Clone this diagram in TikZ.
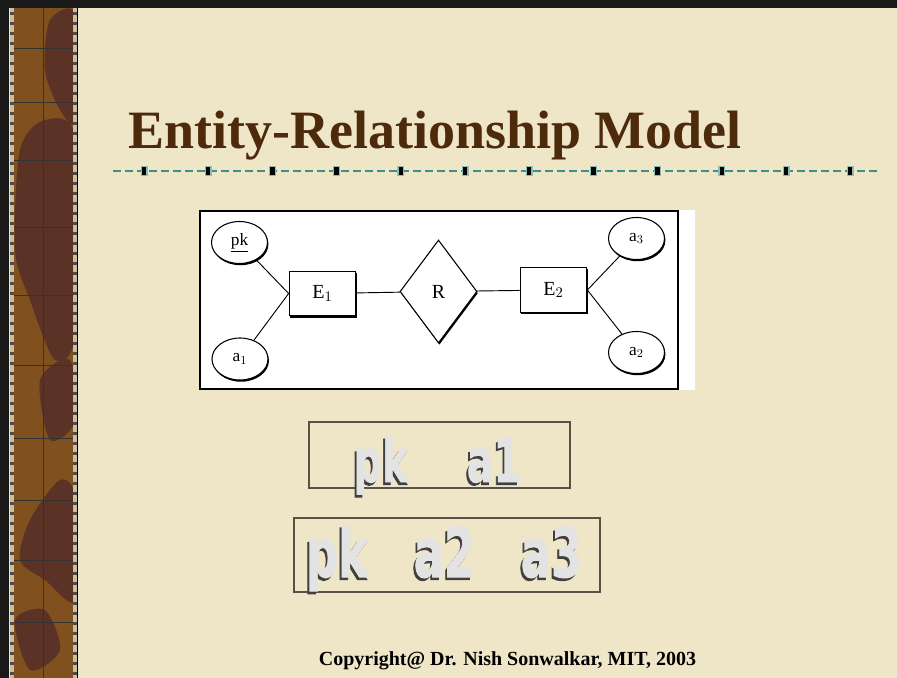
\documentclass[tikz,border=0pt]{standalone}
\usepackage{fontspec}
\setmainfont{Liberation Serif}
\newfontfamily\blockfont[BoldFeatures={FakeBold=1.6}]{DejaVu Sans}
\usetikzlibrary{shapes.geometric,shadows}

\definecolor{slidebg}{HTML}{EFE6C8}
\definecolor{titlebrown}{HTML}{4E2A0C}
\definecolor{ruleteal}{HTML}{3E8F85}
\definecolor{boxline}{HTML}{5B5048}
\definecolor{stripbase}{HTML}{80501F}
\definecolor{stripdark}{HTML}{5A3326}
\definecolor{stripedge}{HTML}{CBBDA0}

% raised grey lettering with a dark shadow, squeezed sideways
\newcommand{\ghostword}[1]{\scalebox{0.66}[1]{\rlap{\kern-2.2pt\raisebox{-2pt}{\color{gray!50!black}#1}}\color{gray!22}#1}}

\tikzset{
  attr/.style={ellipse, draw, fill=white, line width=0.8pt, inner sep=0pt,
    minimum width=42pt, minimum height=31.5pt, font=\fontsize{13}{15}\selectfont,
    drop shadow={shadow xshift=0.7pt, shadow yshift=-1.3pt, opacity=1, fill=black}},
  entity/.style={rectangle, draw, fill=white, line width=0.8pt, inner sep=0pt,
    minimum width=50pt, minimum height=33.5pt, font=\fontsize{15}{17}\selectfont,
    drop shadow={shadow xshift=0.7pt, shadow yshift=-1.3pt, opacity=1, fill=black}},
  rel/.style={diamond, draw, fill=white, line width=0.8pt, inner sep=0pt,
    minimum width=57.75pt, minimum height=77.25pt, font=\fontsize{15}{17}\selectfont,
    drop shadow={shadow xshift=0.7pt, shadow yshift=-1.3pt, opacity=1, fill=black}},
  link/.style={line width=0.7pt},
  blockA/.style={font=\blockfont\bfseries\fontsize{45}{50}\selectfont, inner sep=0pt, anchor=base},
  blockB/.style={font=\blockfont\bfseries\fontsize{51}{56}\selectfont, inner sep=0pt, anchor=base}
}

\begin{document}
\begin{tikzpicture}[x=0.75pt,y=-0.75pt]
  % page
  \fill[slidebg] (0,0) rectangle (897,678);
  \useasboundingbox (0,0) rectangle (897,678);
  \fill[black!90] (0,0) rectangle (897,8);
  \fill[black!90] (0,0) rectangle (9,678);

  % left strip
  \begin{scope}
    \clip (10,8) rectangle (77,678);
    \fill[stripbase] (10,8) rectangle (77,678);
    \fill[stripdark] plot[smooth cycle] coordinates {(50,20)(76,15)(76,120)(60,110)(45,70)};
    \fill[stripdark] plot[smooth cycle] coordinates {(20,150)(45,120)(76,140)(76,330)(55,360)(30,300)(15,250)};
    \fill[stripdark] plot[smooth cycle] coordinates {(40,380)(70,360)(76,420)(50,440)};
    \fill[stripdark] plot[smooth cycle] coordinates {(30,520)(60,480)(76,500)(76,600)(45,580)(20,560)};
    \fill[stripdark] plot[smooth cycle] coordinates {(15,620)(45,610)(60,650)(30,670)};
    \draw[black!80, line width=0.6pt] (43,8) -- (43,678);
    \foreach \yy in {48,102,160,227,295,365,438,500,560,622}{
      \draw[black!80, line width=0.6pt] (10,\yy) -- (77,\yy);
    }
    \fill[stripedge] (10,8) rectangle (14,678);
    \fill[stripedge] (73,8) rectangle (77,678);
    \foreach \yy in {12,22,...,672}{
      \fill[black!70] (10,\yy) rectangle (14,\yy+3);
      \fill[black!70] (73,\yy) rectangle (77,\yy+3);
    }
  \end{scope}
  \draw[black, line width=0.8pt] (77.5,8) -- (77.5,678);

  % title
  \node[anchor=base, text=titlebrown, inner sep=0pt,
        font=\bfseries\fontsize{40.5}{46}\selectfont] (title) at (435,148) {Entity-Relationship Model};

  % title rule
  \draw[ruleteal, line width=1.2pt, dash pattern=on 6pt off 3pt] (113,171) -- (877,171);
  \foreach \i in {0,...,11}{
    \fill[ruleteal!60] (144+64.2*\i-3.5,171-5) rectangle (144+64.2*\i+3.5,171+5);
    \fill[black] (144+64.2*\i-2.2,171-3.8) rectangle (144+64.2*\i+2.2,171+3.8);
  }

  % ER diagram panel
  \fill[white] (200,210) rectangle (695,390);
  \draw[black, line width=0.8pt] (678,211) -- (200,211) -- (200,389) -- (678,389) -- cycle;

  \node[attr] (pk) at (239.5,242.5) {\underline{pk}};
  \node[attr] (a1) at (240,359) {a$_1$};
  \node[entity] (E1) at (322.5,293.5) {E$_1$};
  \node[rel] (R) at (438.5,291.5) {R};
  \node[entity] (E2) at (553.5,290) {E$_2$};
  \node[attr] (a3) at (636.5,238.5) {a$_3$};
  \node[attr] (a2) at (636.5,352.5) {a$_2$};

  \draw[link] (pk) -- (E1.west);
  \draw[link] (a1) -- (E1.west);
  \draw[link] (E1) -- (R);
  \draw[link] (R) -- (E2);
  \draw[link] (a3) -- (E2.east);
  \draw[link] (a2) -- (E2.east);

  % relation for E1
  \draw[boxline, line width=0.9pt] (309,422) rectangle (570,488);
  \node[blockA] (pkA)   at (381,482) {\ghostword{pk}};
  \node[blockA] (aoneA) at (494,482) {\ghostword{a1}};

  % relation for E2
  \draw[boxline, line width=0.9pt] (294,518) rectangle (600,592);
  \node[blockB] (pkB)     at (337,577) {\ghostword{pk}};
  \node[blockB] (atwoB)   at (444.5,577) {\ghostword{a2}};
  \node[blockB] (athreeB) at (551.5,577) {\ghostword{a3}};

  % footer
  \node[anchor=base, inner sep=0pt, font=\bfseries\fontsize{15}{18}\selectfont] (copy) at (507.5,665)
    {Copyright@ Dr. Nish Sonwalkar, MIT, 2003};
\end{tikzpicture}
\end{document}
